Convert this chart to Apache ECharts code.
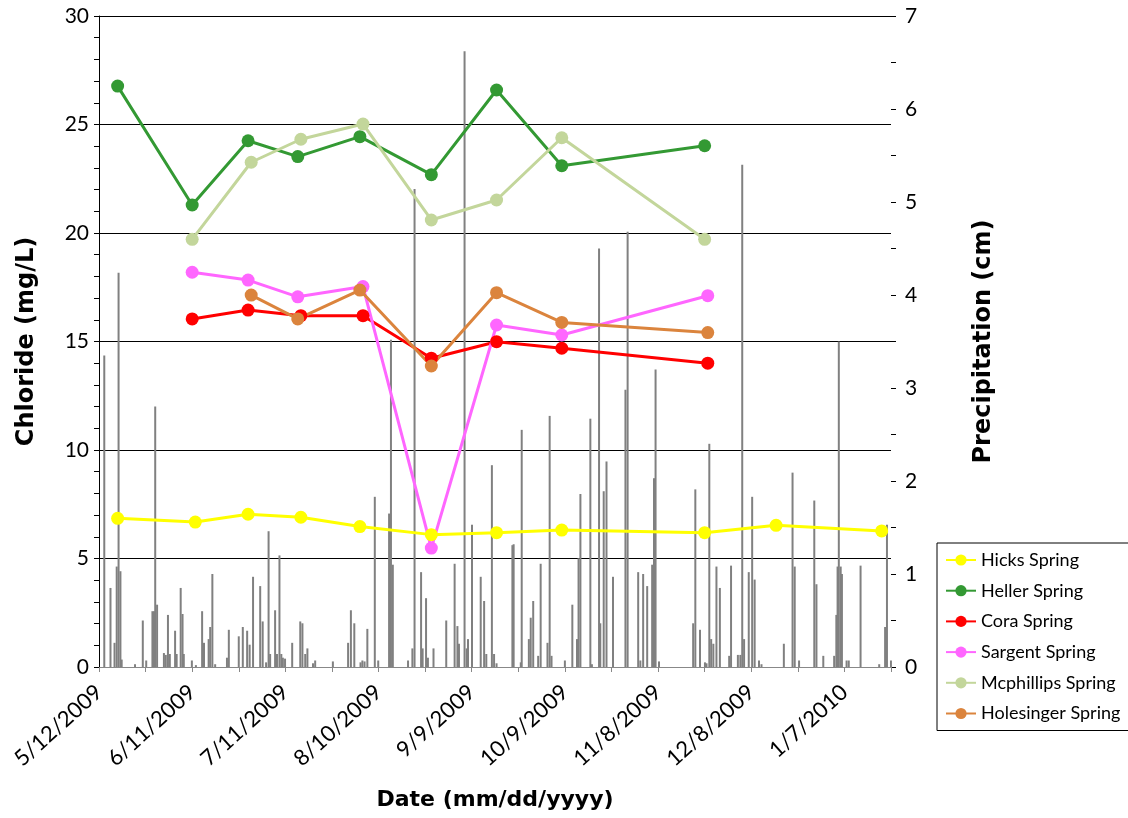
<!DOCTYPE html>
<html>
<head>
<meta charset="utf-8">
<title>Chloride and precipitation</title>
<script src="https://cdn.jsdelivr.net/npm/echarts@6/dist/echarts.min.js"></script>
<style>
  html, body { margin: 0; padding: 0; background: #fff; }
  #chart { width: 1128px; height: 818px; }
</style>
</head>
<body>
<div id="chart"></div>
<script>
// fechas en m/d/yyyy, eje x en dias desde startDate
const startDate = '5/12/2009'
const endDate   = '1/22/2010'

const hicksDates  = ['5/18/2009', '6/12/2009', '6/29/2009', '7/16/2009', '8/4/2009', '8/27/2009', '9/17/2009', '10/8/2009', '11/23/2009', '12/16/2009', '1/19/2010']
const hicksValues = [6.85, 6.68, 7.04, 6.9, 6.47, 6.1, 6.19, 6.31, 6.19, 6.53, 6.27]

const hellerDates  = ['5/18/2009', '6/11/2009', '6/29/2009', '7/15/2009', '8/4/2009', '8/27/2009', '9/17/2009', '10/8/2009', '11/23/2009']
const hellerValues = [26.77, 21.29, 24.25, 23.52, 24.44, 22.69, 26.59, 23.1, 24.02]

const coraDates  = ['6/11/2009', '6/29/2009', '7/16/2009', '8/5/2009', '8/27/2009', '9/17/2009', '10/8/2009', '11/24/2009']
const coraValues = [16.04, 16.45, 16.19, 16.19, 14.23, 14.99, 14.69, 14.0]

const sargentDates  = ['6/11/2009', '6/29/2009', '7/15/2009', '8/5/2009', '8/27/2009', '9/17/2009', '10/8/2009', '11/24/2009']
const sargentValues = [18.19, 17.83, 17.06, 17.53, 5.48, 15.76, 15.3, 17.11]

const mcphillipsDates  = ['6/11/2009', '6/30/2009', '7/16/2009', '8/5/2009', '8/27/2009', '9/17/2009', '10/8/2009', '11/23/2009']
const mcphillipsValues = [19.71, 23.26, 24.32, 25.02, 20.6, 21.52, 24.39, 19.71]

const holesingerDates  = ['6/30/2009', '7/15/2009', '8/4/2009', '8/27/2009', '9/17/2009', '10/8/2009', '11/24/2009']
const holesingerValues = [17.14, 16.04, 17.37, 13.87, 17.25, 15.88, 15.41]

// precipitacion: [dias desde startDate, cm]
const precipitation = [
  [1.7, 3.35], [3.7, 0.85], [5, 0.26], [5.7, 1.08], [6.3, 4.24], [6.9, 1.03], [7.3, 0.08], [11.6, 0.03],
  [14.1, 0.5], [15.2, 0.07], [17.2, 0.6], [17.7, 0.6], [18.1, 2.8], [18.7, 0.67], [20.9, 0.15], [21.5, 0.13],
  [22.2, 0.56], [22.8, 0.14], [24.5, 0.39], [25, 0.14], [26.3, 0.85], [26.9, 0.57], [27.3, 0.14], [29.9, 0.07],
  [31.2, 0.02], [33.2, 0.6], [33.8, 0.26], [35.3, 0.3], [35.8, 0.43], [36.5, 1.0], [37.4, 0.03], [41.2, 0.1],
  [41.8, 0.4], [45, 0.33], [46.3, 0.43], [47.7, 0.39], [48.5, 0.24], [49.6, 0.97], [51.9, 0.87], [52.7, 0.49],
  [53.8, 0.05], [54.6, 1.46], [55.1, 0.14], [56.7, 0.61], [57.3, 0.14], [58.1, 1.2], [58.7, 0.14], [59.2, 0.1],
  [59.9, 0.09], [62.2, 0.26], [64.8, 0.49], [65.5, 0.47], [66.4, 0.14], [67.1, 0.2], [68.9, 0.04], [69.6, 0.07],
  [75.3, 0.06], [80.2, 0.26], [81.1, 0.61], [82.2, 0.47], [84.2, 0.05], [84.8, 0.07], [85.5, 0.06], [86.4, 0.41],
  [88.8, 1.83], [89.9, 0.07], [93.4, 1.65], [94, 3.52], [94.6, 1.1], [99.5, 0.07], [100.9, 0.2], [101.6, 5.14],
  [103.7, 1.02], [104.2, 0.2], [105.3, 0.74], [105.9, 0.1], [107.7, 0.2], [111.8, 0.5], [114.5, 1.11], [115.4, 0.44],
  [115.9, 0.25], [117.7, 6.62], [118.4, 0.2], [118.8, 0.3], [120.1, 1.53], [122.9, 0.97], [124, 0.71], [124.7, 0.14],
  [126.5, 2.17], [127.2, 0.14], [128, 0.04], [133.1, 1.31], [133.5, 1.32], [135.8, 0.05], [136.1, 2.55], [138.4, 0.3],
  [139, 0.53], [139.8, 0.71], [141.4, 0.12], [142.2, 1.11], [144.4, 0.26], [145.1, 2.7], [145.7, 0.12], [150, 0.07],
  [152.4, 0.67], [153.9, 0.3], [154.4, 1.17], [155, 1.86], [158.2, 2.67], [158.7, 0.03], [161, 4.5], [161.4, 0.47],
  [162.5, 1.89], [163.4, 2.21], [165.5, 0.97], [169.5, 2.98], [170.2, 4.68], [173.6, 1.02], [174.3, 0.07], [175.2, 1.0],
  [176.5, 0.87], [178.1, 1.1], [178.7, 2.03], [179.2, 3.2], [180.3, 0.06], [191.3, 0.47], [192, 1.91], [193.5, 0.4],
  [195.1, 0.05], [195.6, 0.04], [196.5, 2.4], [197.1, 0.3], [197.8, 0.25], [198.8, 1.08], [199.9, 0.85], [202.9, 0.12],
  [203.5, 1.09], [205.7, 0.13], [206.5, 0.13], [207.1, 5.4], [207.7, 0.3], [209.2, 1.02], [210.3, 1.83], [211.1, 0.94],
  [212.5, 0.07], [213.3, 0.03], [220.5, 0.25], [223.3, 2.09], [224, 1.08], [225.4, 0.07], [230.3, 1.79], [231, 0.89],
  [233.2, 0.12], [236.7, 0.12], [237.4, 0.56], [237.8, 1.08], [238.2, 3.5], [238.8, 1.08], [239.2, 1.0], [240.7, 0.07],
  [241.4, 0.07], [245.2, 1.09], [251.2, 0.03], [253.1, 0.43], [253.7, 1.53], [255, 0.07]
]

const DAY = 86400000

function toMs(str) {
  const p = str.split('/').map(Number)
  return Date.UTC(p[2], p[0] - 1, p[1])
}

const startMs = toMs(startDate)
const endDay  = (toMs(endDate) - startMs) / DAY

function dayOf(str) {
  return (toMs(str) - startMs) / DAY
}

function dateLabel(day) {
  if (day % 30 !== 0) return ''
  const t = new Date(startMs + day * DAY)
  return (t.getUTCMonth() + 1) + '/' + t.getUTCDate() + '/' + t.getUTCFullYear()
}

function springSeries(name, dates, values, color) {
  return {
    name      : name,
    type      : 'line',
    yAxisIndex: 0,
    symbol    : 'circle',
    symbolSize: 13,
    data      : dates.map((d, i) => [dayOf(d), values[i]]),
    itemStyle : { color: color },
    lineStyle : { color: color, width: 3 },
    z         : 3
  }
}

const fontTick  = 'Lato'
const fontTitle = 'DejaVu Sans'

const chart = echarts.init(document.getElementById('chart'), null, { renderer: 'canvas' })

chart.setOption({
  animation: false,
  backgroundColor: '#fff',
  grid: {
    left  : 99,
    right : 237,
    top   : 16,
    bottom: 151,
    containLabel  : false,
    outerBoundsMode: 'none'
  },
  legend: {
    orient: 'vertical',
    left: 937,
    top: 543,
    width: 191,
    backgroundColor: '#fff',
    borderColor: '#000',
    borderWidth: 1,
    borderRadius: 0,
    padding: [8, 20, 8, 8],
    itemGap: 12.7,
    itemWidth: 30,
    itemHeight: 14,
    textStyle: { fontFamily: fontTick, fontSize: 18, color: '#000' },
    data: ['Hicks Spring', 'Heller Spring', 'Cora Spring', 'Sargent Spring', 'Mcphillips Spring', 'Holesinger Spring']
  },
  xAxis: {
    type: 'value',
    min: 0,
    max: endDay,
    interval: 15,
    name: 'Date (mm/dd/yyyy)',
    nameLocation: 'middle',
    nameGap: 122,
    nameTextStyle: { fontFamily: fontTitle, fontWeight: 'bold', fontSize: 22, color: '#000' },
    axisLine: { onZero: false, lineStyle: { color: '#888', width: 1 } },
    axisTick: { show: true, length: 5, lineStyle: { color: '#888' } },
    axisLabel: {
      rotate: 42,
      margin: 22,
      fontFamily: fontTick,
      fontSize: 22,
      color: '#000',
      showMinLabel: true,
      showMaxLabel: true,
      formatter: dateLabel
    },
    splitLine: { show: false }
  },
  yAxis: [
    {
      type: 'value',
      min: 0,
      max: 30,
      interval: 5,
      name: 'Chloride (mg/L)',
      nameLocation: 'middle',
      nameGap: 60,
      nameRotate: 90,
      nameTextStyle: { fontFamily: fontTitle, fontWeight: 'bold', fontSize: 24, color: '#000' },
      axisLine: { show: true, lineStyle: { color: '#000' } },
      axisTick: { show: true, length: 5, lineStyle: { color: '#000' } },
      minorTick: { show: true, splitNumber: 5, length: 5, lineStyle: { color: '#000' } },
      axisLabel: { fontFamily: fontTick, fontSize: 21, color: '#000', margin: 10 },
      splitLine: { show: true, lineStyle: { color: '#000', width: 1 } }
    },
    {
      type: 'value',
      min: 0,
      max: 7,
      interval: 1,
      position: 'right',
      name: 'Precipitation (cm)',
      nameLocation: 'middle',
      nameGap: 81,
      nameRotate: 90,
      nameTextStyle: { fontFamily: fontTitle, fontWeight: 'bold', fontSize: 24, color: '#000' },
      axisLine: { show: false },
      axisTick: { show: true, length: 5, lineStyle: { color: '#000' } },
      minorTick: { show: true, splitNumber: 2, length: 5, lineStyle: { color: '#000' } },
      axisLabel: { fontFamily: fontTick, fontSize: 21, color: '#000', margin: 14 },
      splitLine: { show: false }
    }
  ],
  series: [
    {
      name: 'Precipitation',
      type: 'bar',
      yAxisIndex: 1,
      barWidth: 2,
      data: precipitation,
      itemStyle: { color: '#808080' },
      z: 1
    },
    springSeries('Hicks Spring', hicksDates, hicksValues, '#FFFF00'),
    springSeries('Heller Spring', hellerDates, hellerValues, '#339933'),
    springSeries('Cora Spring', coraDates, coraValues, '#FF0000'),
    springSeries('Sargent Spring', sargentDates, sargentValues, '#FF66FF'),
    springSeries('Mcphillips Spring', mcphillipsDates, mcphillipsValues, '#C3D69B'),
    springSeries('Holesinger Spring', holesingerDates, holesingerValues, '#DB843D')
  ]
})
</script>
</body>
</html>
